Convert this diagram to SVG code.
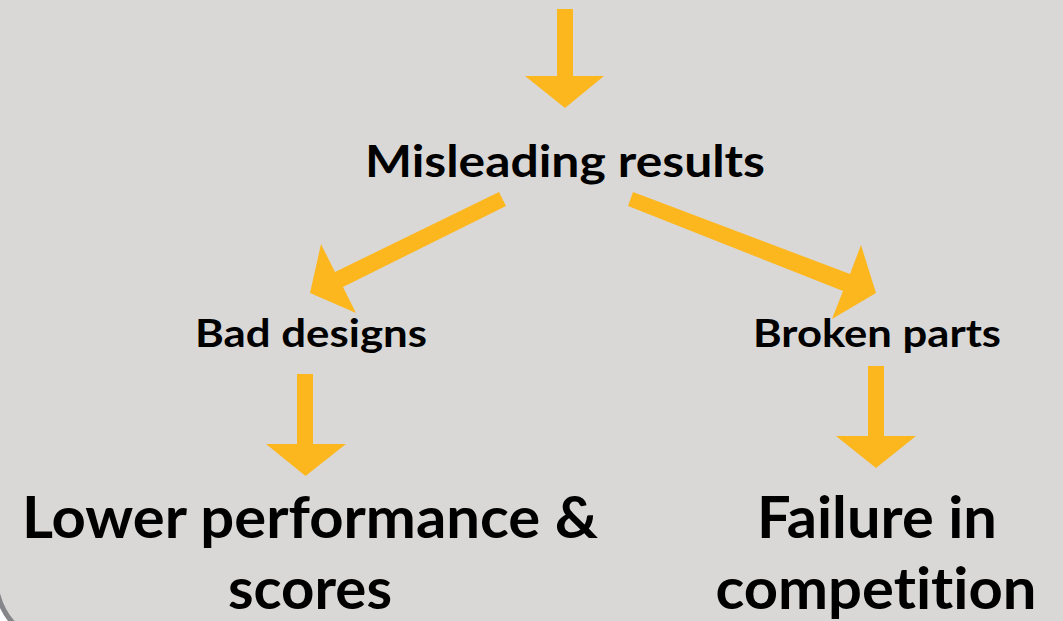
<svg xmlns="http://www.w3.org/2000/svg" width="1063" height="621" viewBox="0 0 1063 621">
  <defs>
    <style>
      .bg { fill: #D9D8D6; }
      .arrow { fill: #FDB71E; }
      .t { font-family: Lato, "Open Sans", "Liberation Sans", sans-serif; font-weight: bold; fill: #000; text-anchor: middle; font-variant-ligatures: none; font-feature-settings: "liga" 0, "clig" 0; }
      .mid { font-size: 44px; }
      .small { font-size: 39px; }
      .big { font-size: 58px; }
    </style>
  </defs>
  <rect class="bg" x="0" y="0" width="1063" height="621"/>
  <path d="M -3 592 Q 2 612 14 624 L -3 624 Z" fill="#FFFFFF"/>
  <path d="M -3 592 Q 2 612 14 624" fill="none" stroke="#85868A" stroke-width="5"/>

  <g id="connectors">
    <polygon class="arrow" points="557,9 573,9 573,76 604,76 565,108 525,76 557,76"/>
    <polygon class="arrow" points="499,192 335,272 321,244 310,293 356,313 343,287 506,206"/>
    <polygon class="arrow" points="633,192 850,274 861,245 876,293 832,319 843,291 628,206"/>
    <polygon class="arrow" points="297,374 313,374 313,444 346,444 305.5,476 266,444 297,444"/>
    <polygon class="arrow" points="868,366 884,366 884,436 916,436 876,468 836,436 868,436"/>
  </g>

  <g id="node-misleading">
    <text class="t mid" x="565" y="177" textLength="400" lengthAdjust="spacingAndGlyphs">Misleading results</text>
  </g>
  <g id="node-bad-designs">
    <text class="t small" x="311" y="347" textLength="232" lengthAdjust="spacingAndGlyphs">Bad designs</text>
  </g>
  <g id="node-broken-parts">
    <text class="t small" x="877" y="347" textLength="248" lengthAdjust="spacingAndGlyphs">Broken parts</text>
  </g>
  <g id="node-lower-performance">
    <text class="t big" x="310" y="538" textLength="576" lengthAdjust="spacingAndGlyphs">Lower performance &amp;</text>
    <text class="t big" x="310" y="609" textLength="164" lengthAdjust="spacingAndGlyphs">scores</text>
  </g>
  <g id="node-failure">
    <text class="t big" x="877" y="538" textLength="240" lengthAdjust="spacingAndGlyphs">Failure in</text>
    <text class="t big" x="876" y="609" textLength="321" lengthAdjust="spacingAndGlyphs">competition</text>
  </g>
</svg>
